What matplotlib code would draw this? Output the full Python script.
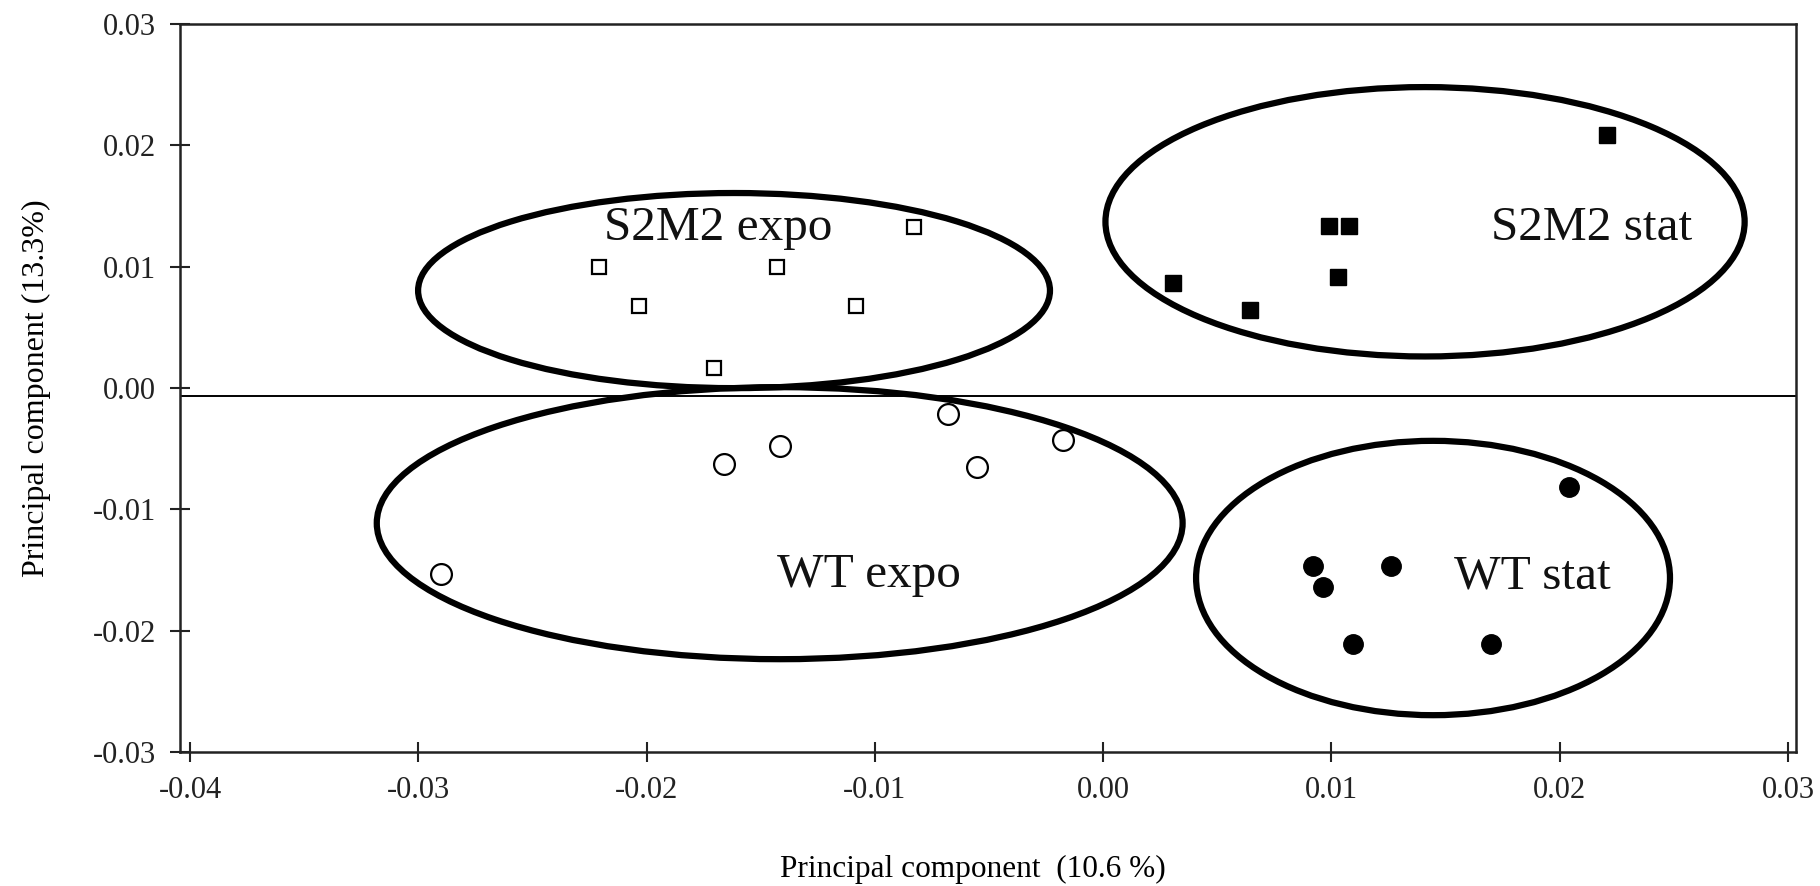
import matplotlib
matplotlib.use("Agg")
import matplotlib.pyplot as plt
from matplotlib.patches import Ellipse

plt.rcParams['font.family'] = ['Liberation Serif', 'DejaVu Serif']

# ---- data ----
s2m2_expo_x = [-0.02207, -0.02032, -0.01705, -0.01430, -0.01084, -0.00827]
s2m2_expo_y = [0.00994, 0.00675, 0.00162, 0.00994, 0.00675, 0.01324]
s2m2_stat_x = [0.00308, 0.00643, 0.00989, 0.01075, 0.01030, 0.02207]
s2m2_stat_y = [0.00863, 0.00643, 0.01332, 0.01332, 0.00911, 0.02088]
wt_expo_x = [-0.02900, -0.01660, -0.01416, -0.00679, -0.00551, -0.00175]
wt_expo_y = [-0.01529, -0.00630, -0.00477, -0.00218, -0.00649, -0.00429]
wt_stat_x = [0.00920, 0.00961, 0.01259, 0.01093, 0.01697, 0.02042]
wt_stat_y = [-0.01466, -0.01639, -0.01466, -0.02114, -0.02114, -0.00820]

group_names = ["S2M2 expo", "S2M2 stat", "WT expo", "WT stat"]
# ellipse centre x, centre y, width, height (data units)
ell_cx = [-0.01617, 0.01410, -0.01417, 0.01445]
ell_cy = [0.00803, 0.01370, -0.01114, -0.01566]
ell_w = [0.02768, 0.02800, 0.03530, 0.02076]
ell_h = [0.01608, 0.02220, 0.02242, 0.02261]
label_x = [-0.01688, 0.02138, -0.01027, 0.01881]
label_y = [0.01318, 0.01317, -0.01540, -0.01550]

baseline_y = -0.0007
x_ticks = [-0.04, -0.03, -0.02, -0.01, 0.00, 0.01, 0.02, 0.03]
y_ticks = [-0.03, -0.02, -0.01, 0.00, 0.01, 0.02, 0.03]

fig = plt.figure(figsize=(18.2, 8.86), dpi=100)
ax = fig.add_axes([180 / 1820, 1 - 752 / 886, 1616 / 1820, 728 / 886])

ax.set_xlim(-0.04044, 0.03035)
ax.set_ylim(-0.03, 0.03)

ax.axhline(baseline_y, color='black', lw=1.4, zorder=1)

for cx, cy, w, h in zip(ell_cx, ell_cy, ell_w, ell_h):
    ax.add_patch(Ellipse((cx, cy), w, h, fill=False, edgecolor='black', lw=4.5, zorder=2))

ax.plot(s2m2_expo_x, s2m2_expo_y, ls='none', marker='s', ms=10.5, mfc='white',
        mec='black', mew=1.6, zorder=3)
ax.plot(s2m2_stat_x, s2m2_stat_y, ls='none', marker='s', ms=12, mfc='black',
        mec='black', zorder=3)
ax.plot(wt_expo_x, wt_expo_y, ls='none', marker='o', ms=15, mfc='white',
        mec='black', mew=1.6, zorder=3)
ax.plot(wt_stat_x, wt_stat_y, ls='none', marker='o', ms=14, mfc='black',
        mec='black', zorder=3)

for name, lx, ly in zip(group_names, label_x, label_y):
    ax.text(lx, ly, name, fontsize=35.5, ha='center', va='center', color='#111111', zorder=4)

ax.set_xticks(x_ticks)
ax.set_xticklabels([f"{v:.2f}" for v in x_ticks])
ax.set_yticks(y_ticks)
ax.set_yticklabels([f"{v:.2f}" for v in y_ticks])
ax.tick_params(direction='inout', length=15, width=1.5, labelsize=22, pad=10,
               colors='#222222')

for sp in ax.spines.values():
    sp.set_linewidth(1.8)
    sp.set_color('#222222')

ax.set_xlabel("Principal component  (10.6 %)", fontsize=22.5)
ax.xaxis.set_label_coords(0.4907, -0.1415)
ax.set_ylabel("Principal component (13.3%)", fontsize=23)
ax.yaxis.set_label_coords(-0.0800, 0.5)

fig.savefig("out.png", dpi=100)
